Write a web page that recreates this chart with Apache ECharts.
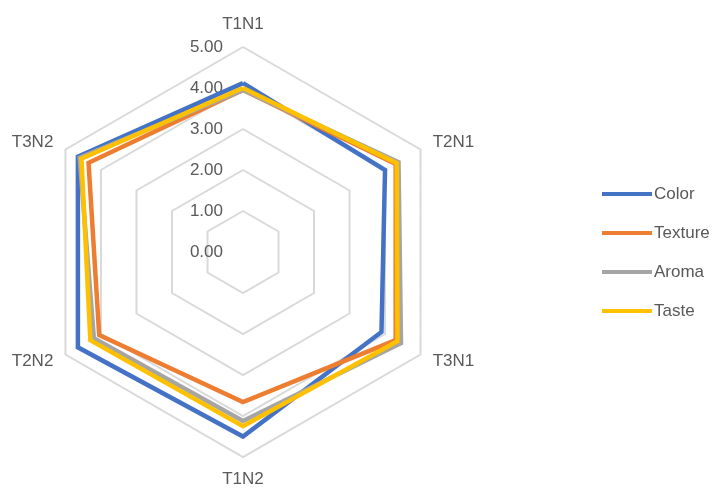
<!DOCTYPE html>
<html>
<head>
<meta charset="utf-8">
<script src="https://cdn.jsdelivr.net/npm/echarts@6/dist/echarts.min.js"></script>
<style>html,body{margin:0;padding:0;background:#fff;}#c{width:719px;height:490px;}</style>
</head>
<body>
<div id="c"></div>
<script>
// Axes in clockwise order starting at the top (as in the reference)
const categories = ['T1N1', 'T2N1', 'T3N1', 'T1N2', 'T2N2', 'T3N2'];
const seriesNames = ['Color', 'Texture', 'Aroma', 'Taste'];
const colorVals   = [4.12, 4.00, 3.90, 4.50, 4.65, 4.65];
const textureVals = [3.95, 4.30, 4.30, 3.66, 4.05, 4.35];
const aromaVals   = [3.95, 4.38, 4.45, 4.12, 4.20, 4.60];
const tasteVals   = [4.00, 4.33, 4.35, 4.25, 4.30, 4.55];
const tickLabels = ['0.00', '1.00', '2.00', '3.00', '4.00', '5.00'];
const axisMin = 0, axisMax = 5, axisStep = 1;

const palette = ['#4472C4', '#ED7D31', '#A5A5A5', '#FFC000'];
const allVals = [colorVals, textureVals, aromaVals, tasteVals];

// ECharts radar places indicators counter-clockwise; reorder to get clockwise layout
const order = [0, 5, 4, 3, 2, 1];
const reorder = arr => order.map(i => arr[i]);

const cx = 243, cy = 252, R = 205;
const font = 'Liberation Sans, Arial, sans-serif';
const txt = '#595959';

const chart = echarts.init(document.getElementById('c'), null, {renderer: 'canvas'});
chart.setOption({
  animation: false,
  backgroundColor: '#fff',
  radar: {
    center: [cx, cy],
    radius: R,
    startAngle: 90,
    shape: 'polygon',
    splitNumber: (axisMax - axisMin) / axisStep,
    indicator: reorder(categories).map(n => ({name: n, min: axisMin, max: axisMax})),
    axisName: {color: txt, fontSize: 17, fontFamily: font},
    nameGap: 14,
    axisLine: {show: false},
    axisTick: {show: false},
    axisLabel: {show: false},
    splitArea: {show: false},
    splitLine: {lineStyle: {color: '#D9D9D9', width: 2}}
  },
  grid: {left: cx, top: cy - R, width: 1, height: R, containLabel: false},
  xAxis: {type: 'value', show: false, min: 0, max: 1},
  yAxis: {
    type: 'value', min: axisMin, max: axisMax, interval: axisStep,
    axisLine: {show: false}, axisTick: {show: false}, splitLine: {show: false},
    axisLabel: {
      margin: 20, color: txt, fontSize: 17, fontFamily: font, padding: [4, 0, 0, 0],
      formatter: v => tickLabels[Math.round((v - axisMin) / axisStep)]
    }
  },
  legend: {
    orient: 'vertical',
    left: 597,
    top: 179,
    itemWidth: 50,
    itemHeight: 4,
    itemGap: 19,
    icon: 'rect',
    data: seriesNames,
    textStyle: {color: txt, fontSize: 17, fontFamily: font, lineHeight: 20, padding: [0, 0, 0, -3]}
  },
  series: [
    {type: 'scatter', xAxisIndex: 0, yAxisIndex: 0, data: [], silent: true},
    {
      type: 'radar',
      symbol: 'none',
      data: seriesNames.map((n, i) => ({
        name: n,
        value: reorder(allVals[i]),
        itemStyle: {color: palette[i]},
        lineStyle: {color: palette[i], width: 4.5, join: 'miter'}
      }))
    }
  ]
});
</script>
</body>
</html>
